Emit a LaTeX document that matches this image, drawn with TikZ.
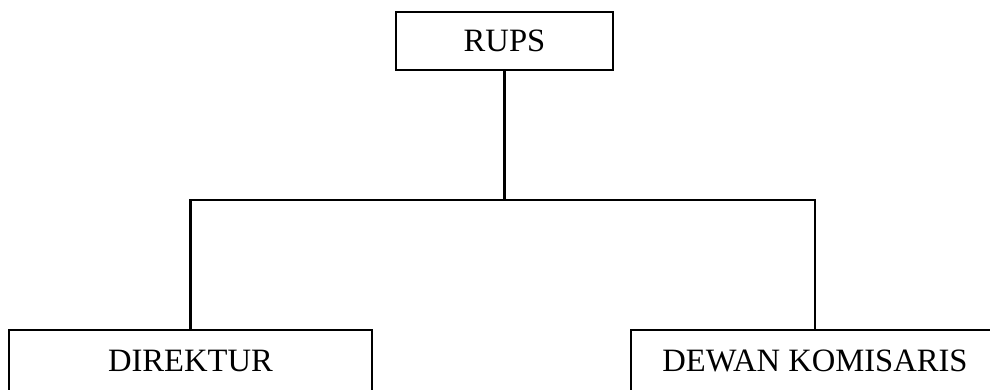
\documentclass[tikz,border=0pt]{standalone}
\usepackage{fontspec}
\setmainfont{Liberation Serif}
\begin{document}
\begin{tikzpicture}[x=1pt,y=1pt,
  orgbox/.style={draw=black, line width=2.2pt, inner sep=0pt, font=\fontsize{32.6}{36}\selectfont},
  conn/.style={draw=black, line width=2.2pt}]
\useasboundingbox (0,0) rectangle (990,389);
\clip (0,0) rectangle (990,389);
\node[orgbox, minimum width=217pt, minimum height=58pt] (rups) at (504.5,348) {RUPS};
\node[orgbox, minimum width=363pt, minimum height=62pt] (dir) at (190.5,28) {DIREKTUR};
\node[orgbox, minimum width=368pt, minimum height=62pt] (dk) at (815,28) {DEWAN KOMISARIS};
\coordinate (j) at (504.5,189);
\draw[conn] (rups.south) -- (j);
\draw[conn] (dir.north) |- (j) -| (dk.north);
\end{tikzpicture}
\end{document}
